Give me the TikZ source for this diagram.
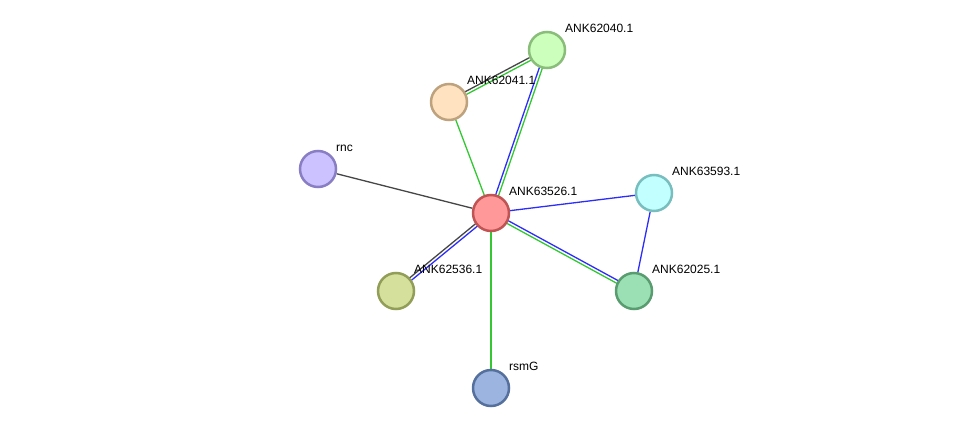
\documentclass[tikz,border=0pt]{standalone}
\usepackage{fontspec}
\setmainfont{Liberation Sans}
\usetikzlibrary{calc,backgrounds}

% evidence colours
\definecolor{txtmine}{RGB}{51,200,51}
\definecolor{cooccur}{RGB}{45,45,250}
\definecolor{coexpr}{RGB}{70,70,70}
% protein colours
\definecolor{f63526}{RGB}{255,153,153}\definecolor{d63526}{RGB}{192,83,83}
\definecolor{f62040}{RGB}{204,255,187}\definecolor{d62040}{RGB}{138,188,122}
\definecolor{f62041}{RGB}{255,226,191}\definecolor{d62041}{RGB}{190,162,126}
\definecolor{frnc}{RGB}{204,194,255}\definecolor{drnc}{RGB}{137,126,196}
\definecolor{f63593}{RGB}{194,255,255}\definecolor{d63593}{RGB}{120,190,190}
\definecolor{f62536}{RGB}{212,224,155}\definecolor{d62536}{RGB}{146,157,88}
\definecolor{f62025}{RGB}{155,224,180}\definecolor{d62025}{RGB}{88,156,112}
\definecolor{frsmG}{RGB}{155,180,224}\definecolor{drsmG}{RGB}{86,112,158}

\begin{document}
\begin{tikzpicture}[x=1pt,y=-1pt,
	prot/.style={circle,minimum size=36pt,inner sep=0pt,line width=2.5pt},
	lbl/.style={font=\fontsize{12}{14}\selectfont,anchor=west,inner sep=0pt},
	link/.style={line width=1.3pt}]
	\useasboundingbox (0,0) rectangle (976,433);
	
	\node[prot,fill=f63526,draw=d63526] (p63526) at (491,213) {};
	\node[lbl] (l63526) at (509,191) {ANK63526.1};
	
	\node[prot,fill=f62040,draw=d62040] (p62040) at (547,50) {};
	\node[lbl] (l62040) at (565,28) {ANK62040.1};
	
	\node[prot,fill=f62041,draw=d62041] (p62041) at (449,102) {};
	\node[lbl] (l62041) at (467,80) {ANK62041.1};
	
	\node[prot,fill=frnc,draw=drnc] (prnc) at (318,169) {};
	\node[lbl] (lrnc) at (336,148) {rnc};
	
	\node[prot,fill=f63593,draw=d63593] (p63593) at (654,193) {};
	\node[lbl] (l63593) at (672,171) {ANK63593.1};
	
	\node[prot,fill=f62536,draw=d62536] (p62536) at (396,291) {};
	\node[lbl] (l62536) at (414,269) {ANK62536.1};
	
	\node[prot,fill=f62025,draw=d62025] (p62025) at (634,291) {};
	\node[lbl] (l62025) at (652,269) {ANK62025.1};
	
	\node[prot,fill=frsmG,draw=drsmG] (prsmG) at (491,388) {};
	\node[lbl] (lrsmG) at (509,366) {rsmG};
	
	\begin{scope}[on background layer]
		% single links
		\draw[link,txtmine] (p62041) -- (p63526);
		\draw[link,coexpr] (prnc) -- (p63526);
		\draw[link,cooccur] (p63526) -- (p63593);
		\draw[link,cooccur] (p63593) -- (p62025);
		\draw[link,txtmine] (p63526) -- (prsmG);
		% double links
		\draw[link,cooccur] ($(p63526)!1.5pt!90:(p62040)$) -- ($(p62040)!1.5pt!-90:(p63526)$);
		\draw[link,txtmine] ($(p63526)!1.5pt!-90:(p62040)$) -- ($(p62040)!1.5pt!90:(p63526)$);
		\draw[link,coexpr] ($(p62041)!1.5pt!90:(p62040)$) -- ($(p62040)!1.5pt!-90:(p62041)$);
		\draw[link,txtmine] ($(p62041)!1.5pt!-90:(p62040)$) -- ($(p62040)!1.5pt!90:(p62041)$);
		\draw[link,cooccur] ($(p63526)!1.5pt!90:(p62536)$) -- ($(p62536)!1.5pt!-90:(p63526)$);
		\draw[link,coexpr] ($(p63526)!1.5pt!-90:(p62536)$) -- ($(p62536)!1.5pt!90:(p63526)$);
		\draw[link,cooccur] ($(p63526)!1.5pt!90:(p62025)$) -- ($(p62025)!1.5pt!-90:(p63526)$);
		\draw[link,txtmine] ($(p63526)!1.5pt!-90:(p62025)$) -- ($(p62025)!1.5pt!90:(p63526)$);
	\end{scope}
\end{tikzpicture}
\end{document}
